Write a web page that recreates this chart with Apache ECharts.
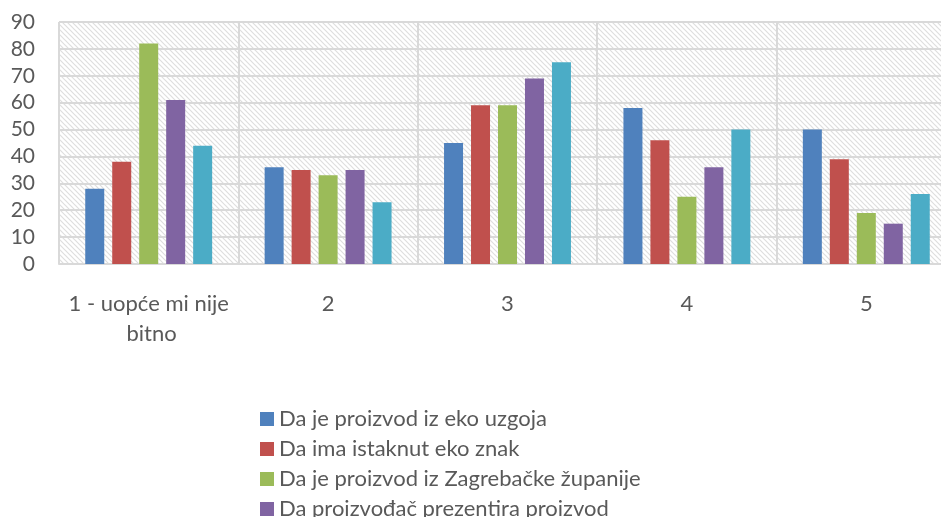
<!DOCTYPE html>
<html>
<head>
<meta charset="utf-8">
<script src="https://cdn.jsdelivr.net/npm/echarts@6/dist/echarts.min.js"></script>
<style>
html,body{margin:0;padding:0;background:#fff;}
#chart{width:941px;height:517px;}
</style>
</head>
<body>
<div id="chart"></div>
<script>
var categories = ['1 - uopće mi nije bitno', '2', '3', '4', '5'];
var seriesNames = [
  'Da je proizvod iz eko uzgoja',
  'Da ima istaknut eko znak',
  'Da je proizvod iz Zagrebačke županije',
  'Da proizvođač prezentira proizvod',
  'Ostalo'
];
var ekoUzgoj = [28, 36, 45, 58, 50];
var ekoZnak = [38, 35, 59, 46, 39];
var zagrebacka = [82, 33, 59, 25, 19];
var prezentira = [61, 35, 69, 36, 15];
var ostalo = [44, 23, 75, 50, 26];
var yTicks = [0, 10, 20, 30, 40, 50, 60, 70, 80, 90];

var colors = ['#4F81BD', '#C0504D', '#9BBB59', '#8064A2', '#4BACC6'];
var values = [ekoUzgoj, ekoZnak, zagrebacka, prezentira, ostalo];

// hatch pattern
var T = 5;
var tile = document.createElement('canvas');
tile.width = T; tile.height = T;
var c = tile.getContext('2d');
c.fillStyle = '#ffffff';
c.fillRect(0, 0, T, T);
c.strokeStyle = '#dedede';
c.lineWidth = 1.2;
c.beginPath();
c.moveTo(-1, -1); c.lineTo(T + 1, T + 1);
c.moveTo(-T - 1, -1); c.lineTo(1, T + 1);
c.moveTo(T - 1, -1); c.lineTo(2 * T + 1, T + 1);
c.stroke();

var font = 'Lato, "Open Sans", sans-serif';
var chart = echarts.init(document.getElementById('chart'));
chart.setOption({
  animation: false,
  color: colors,
  grid: {
    left: 59, top: 22, width: 897, height: 242,
    outerBoundsMode: 'none',
    containLabel: false,
    show: true,
    backgroundColor: { image: tile, repeat: 'repeat' },
    borderWidth: 0
  },
  legend: {
    orient: 'vertical',
    left: 255,
    top: 403,
    height: 300,
    itemWidth: 14,
    itemHeight: 14,
    itemGap: 8,
    icon: 'rect',
    textStyle: { fontFamily: font, fontSize: 22, color: '#595959' },
    data: seriesNames
  },
  xAxis: {
    type: 'category',
    data: categories,
    axisLine: { show: true, lineStyle: { color: '#d9d9d9', width: 2 } },
    axisTick: { show: false },
    splitLine: { show: true, lineStyle: { color: '#d9d9d9', width: 2 } },
    axisLabel: {
      fontFamily: font, fontSize: 22, color: '#595959',
      margin: 25, lineHeight: 30, width: 175, overflow: 'break', interval: 0
    }
  },
  yAxis: {
    type: 'value',
    min: yTicks[0],
    max: yTicks[yTicks.length - 1],
    interval: 10,
    axisLine: { show: false },
    axisTick: { show: false },
    splitLine: { show: true, lineStyle: { color: '#d9d9d9', width: 2 } },
    axisLabel: { fontFamily: font, fontSize: 21, color: '#595959', margin: 24 }
  },
  series: seriesNames.map(function (n, i) {
    return {
      name: n,
      type: 'bar',
      data: values[i],
      barWidth: 19,
      barGap: '42%',
      itemStyle: { color: colors[i] }
    };
  })
});
</script>
</body>
</html>
